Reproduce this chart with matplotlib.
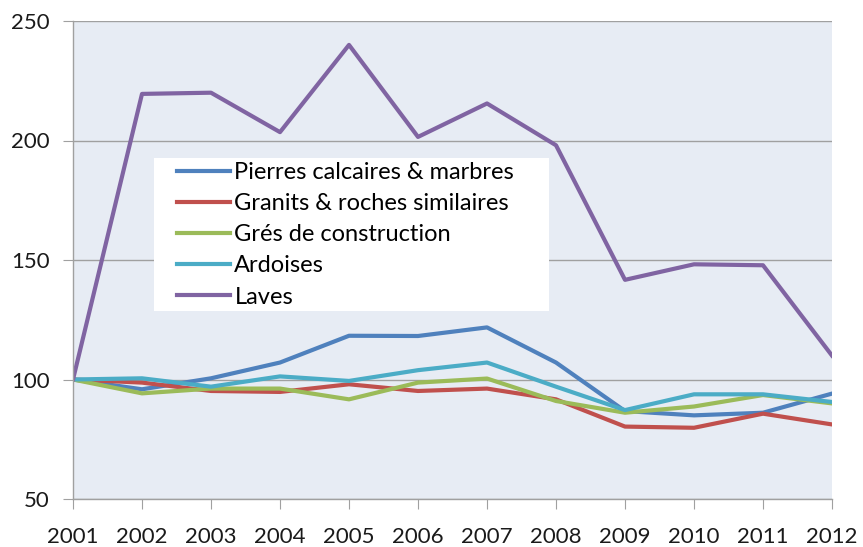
import matplotlib.pyplot as plt
from matplotlib.patches import Rectangle

years = list(range(2001, 2013))
pierres = [100, 95.9, 100.5, 107.1, 118.3, 118.2, 121.8, 107.1, 86.8, 85.0, 86.1, 94.1]
granits = [100, 98.7, 95.2, 94.8, 98.0, 95.2, 96.2, 91.7, 80.3, 79.8, 85.7, 81.2]
gres = [100, 94.2, 96.2, 96.2, 91.7, 98.7, 100.4, 91.0, 86.1, 88.7, 93.5, 90.0]
ardoises = [100, 100.5, 97.0, 101.3, 99.4, 103.9, 107.1, 97.0, 87.2, 93.8, 93.8, 90.6]
laves = [100, 219.5, 220.0, 203.5, 240.0, 201.5, 215.5, 198.0, 141.7, 148.2, 147.8, 110.0]

names = ['Pierres calcaires & marbres', 'Granits & roches similaires',
         'Grés de construction', 'Ardoises', 'Laves']
colors = ['#4F81BD', '#C0504D', '#9BBB59', '#4BACC6', '#8064A2']

plt.rcParams['font.family'] = ['Lato', 'DejaVu Sans']

fig = plt.figure(figsize=(8.63, 5.47), dpi=100)
ax = fig.add_axes([73 / 863, 48 / 547, 759 / 863, 478 / 547])
ax.set_facecolor('#E7ECF4')

for vals, name, c in zip([pierres, granits, gres, ardoises, laves], names, colors):
    ax.plot(years, vals, color=c, lw=3, label=name)

ax.set_xlim(2001, 2012)
ax.set_ylim(50, 250)
ax.set_xticks(years)
ax.set_yticks([50, 100, 150, 200, 250])
ax.yaxis.grid(True, color='#A0A0A0', lw=1)
ax.set_axisbelow(True)

for s in ['top', 'right']:
    ax.spines[s].set_visible(False)
for s in ['left', 'bottom']:
    ax.spines[s].set_color('#A0A0A0')
    ax.spines[s].set_linewidth(1)
ax.tick_params(axis='both', direction='out', length=7, color='#A0A0A0',
               labelsize=16, labelcolor='#1a1a1a')
ax.tick_params(axis='x', pad=13)
ax.tick_params(axis='y', pad=10)

# white legend box
box = Rectangle((81 / 759, 188 / 478), 395 / 759, 153 / 478, transform=ax.transAxes,
                facecolor='white', edgecolor='none', zorder=4)
ax.add_patch(box)

leg = ax.legend(loc='upper left', bbox_to_anchor=(104 / 759, 337 / 478),
                frameon=False, fontsize=17, handlelength=2.25,
                handletextpad=0.18, labelspacing=0.43, borderpad=0, borderaxespad=0)
leg.set_zorder(5)

fig.savefig('out.png', dpi=100)
